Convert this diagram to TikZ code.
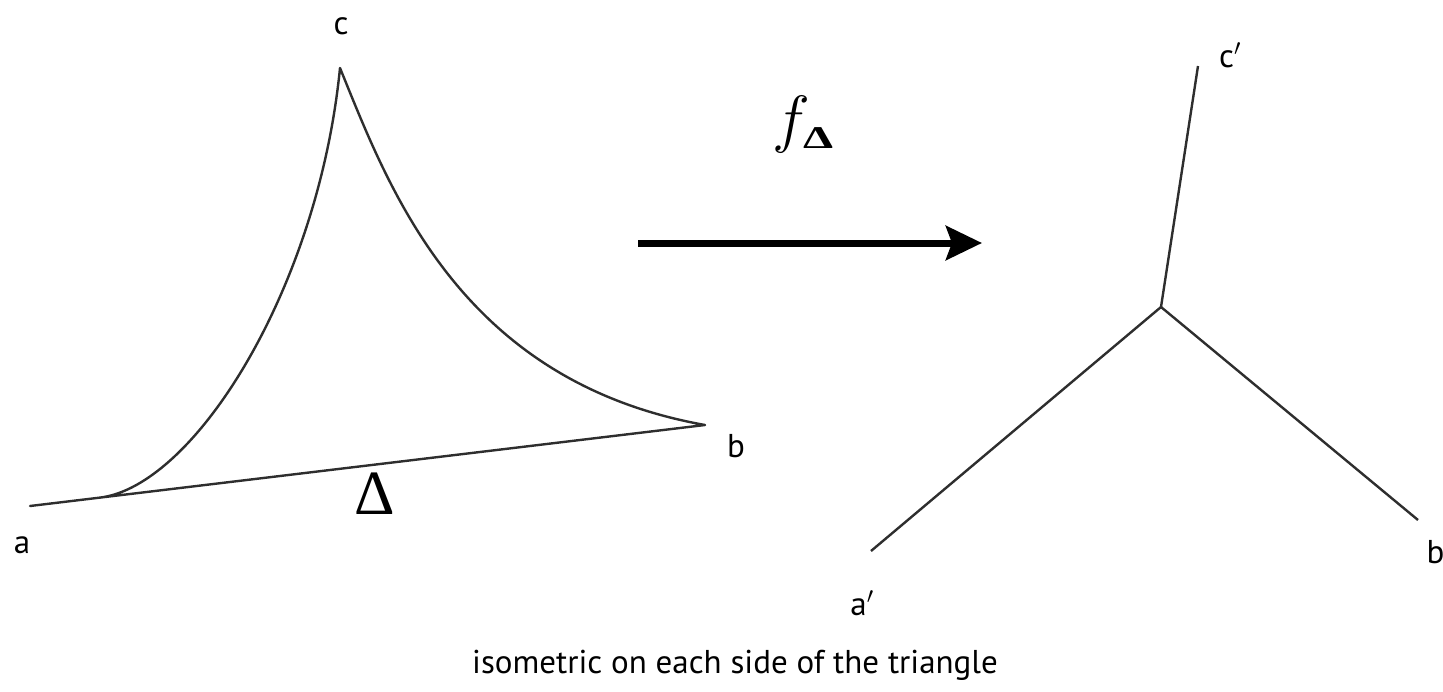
\RequirePackage{fix-cm}
\documentclass[tikz,border=0pt]{standalone}
\usepackage{fontspec}
\usepackage{graphicx}
\setsansfont{PT Sans}
\newfontfamily\greekfont{Liberation Serif}
\usetikzlibrary{arrows.meta,calc}
\newcommand{\lblfont}{\fontsize{33}{38}\selectfont\sffamily}

\begin{document}
\begin{tikzpicture}[x=1pt,y=-1pt,
  lbl/.style={font=\lblfont,inner sep=0pt},
  side/.style={line width=2.4pt,draw=black!82,line join=round}]
  \useasboundingbox (0,0) rectangle (1443,691);
  % the triangle
  \coordinate (a) at (30,506);
  \coordinate (b) at (705,425);
  \coordinate (c) at (340,68);
  \coordinate (lift) at ($(a)!0.104!(b)$);
  \draw[side] (a) -- (lift) .. controls (194,486) and (318,290) .. (c)
    .. controls (389,188) and (459,381) .. (b) -- cycle;
  \node[lbl] (la) at (22,545) {a};
  \node[lbl] (lb) at (736,446) {b};
  \node[lbl] (lc) at (341,26) {c};
  \node[inner sep=0pt,font=\fontsize{63}{66}\selectfont\greekfont] (delta) at (375,494) {Δ};
  % the map
  \coordinate (from) at (638,243);
  \coordinate (to) at (982,243);
  \draw[line width=7pt,-{Stealth[length=36pt,width=34pt,inset=6pt]}] (from) -- (to);
  \node[inner sep=0pt,font=\fontsize{64}{66}\selectfont] (f) at (803,124)
    {$f_{\mbox{\raisebox{1pt}{\scalebox{1}[0.66]{\fontsize{48}{50}\selectfont\greekfont\bfseries Δ}}}}$};
  % the tripod
  \coordinate (o) at (1161,307);
  \coordinate (a') at (871,551);
  \coordinate (b') at (1418,520);
  \coordinate (c') at (1198,66);
  \foreach \v in {a',b',c'}{\draw[side] (o) -- (\v);}
  \node[lbl] (la') at (862,603) {a$'$};
  \node[lbl] (lb') at (1439,551) {b$'$};
  \node[lbl] (lc') at (1230,55) {c$'$};
  \node[lbl] (caption) at (735,665) {isometric on each side of the triangle};
\end{tikzpicture}
\end{document}
